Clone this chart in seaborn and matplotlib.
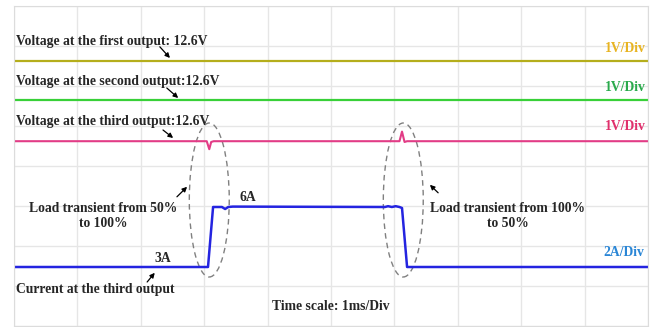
import matplotlib
matplotlib.use("Agg")
import matplotlib.pyplot as plt
from matplotlib.patches import Ellipse
import seaborn as sns

# time axis in ms (1 ms/div), vertical position in scope divisions
t_yellow = [0.0, 10.0]
v_yellow = [6.62, 6.62]

t_green = [0.0, 10.0]
v_green = [5.65, 5.65]

t_pink = [0.0, 3.04, 3.08, 3.11, 3.15, 6.08, 6.12, 6.16, 6.2, 10.0]
v_pink = [4.62, 4.62, 4.42, 4.60, 4.62, 4.62, 4.86, 4.60, 4.62, 4.62]

# current at the third output, amps (2 A/div)
t_current = [0.0, 3.06, 3.14, 3.28, 3.33, 3.38, 3.45, 5.85, 5.9, 5.96, 6.02, 6.08, 6.12, 6.2, 10.0]
i_current = [3.0, 3.0, 6.0, 6.0, 5.9, 6.0, 6.02, 6.0, 6.04, 6.0, 6.04, 6.0, 5.95, 3.0, 3.0]
I_OFFSET = 1.475  # division where 3A sits
A_PER_DIV = 2.0

SERIF = "Liberation Serif"
FS = 9.8

sns.set_style("white")
fig = plt.figure(figsize=(6.53, 3.27), dpi=100)
ax = fig.add_axes([14 / 653, 1 / 327, 634 / 653, 320 / 327])

sns.lineplot(x=t_yellow, y=v_yellow, ax=ax, color="#b5ae1c", lw=1.6, estimator=None)
sns.lineplot(x=t_green, y=v_green, ax=ax, color="#38d038", lw=1.6, estimator=None)
sns.lineplot(x=t_pink, y=v_pink, ax=ax, color="#e23c86", lw=1.5, estimator=None)
cur_div = [I_OFFSET + (i - 3.0) / A_PER_DIV for i in i_current]
sns.lineplot(x=t_current, y=cur_div, ax=ax, color="#2424e0", lw=1.8, estimator=None)

ax.set_xlim(0, 10)
ax.set_ylim(0, 8)
ax.set_xticks(range(11))
ax.set_yticks(range(9))
ax.tick_params(length=0, labelbottom=False, labelleft=False)
ax.grid(True, color="#e6e6e6", lw=1)
for s in ax.spines.values():
    s.set_color("#dcdcdc")

for cx in (3.08, 6.14):
    ax.add_patch(Ellipse((cx, 3.15), 0.63, 3.85, fill=False, ec="#808080",
                         ls=(0, (4, 3)), lw=1))

txt = dict(family=SERIF, weight="bold", fontsize=FS, va="center")
ax.text(0.03, 7.12, "Voltage at the first output: 12.6V", ha="left", **txt)
ax.text(0.03, 6.10, "Voltage at the second output:12.6V", ha="left", **txt)
ax.text(0.03, 5.12, "Voltage at the third output:12.6V", ha="left", **txt)
ax.text(9.97, 6.95, "1V/Div", ha="right", color="#e8b422", **txt)
ax.text(9.97, 5.97, "1V/Div", ha="right", color="#2aaa4c", **txt)
ax.text(9.97, 5.00, "1V/Div", ha="right", color="#e0306c", **txt)
ax.text(9.94, 1.85, "2A/Div", ha="right", color="#2a86d6", **txt)
ax.text(1.40, 2.76, "Load transient from 50%\nto 100%", ha="center",
        multialignment="center", linespacing=1.2, **txt)
ax.text(7.79, 2.75, "Load transient from 100%\nto 50%", ha="center",
        multialignment="center", linespacing=1.2, **txt)
ax.text(3.69, 3.22, "6A", ha="center", **txt)
ax.text(2.35, 1.70, "3A", ha="center", **txt)
ax.text(0.03, 0.90, "Current at the third output", ha="left", **txt)
ax.text(5.0, 0.475, "Time scale: 1ms/Div", ha="center", **txt)

arrows = [((2.30, 6.98), (2.46, 6.70)),
          ((2.41, 5.95), (2.59, 5.70)),
          ((2.35, 4.90), (2.51, 4.70)),
          ((2.57, 3.23), (2.73, 3.48)),
          ((2.10, 1.10), (2.22, 1.33)),
          ((6.69, 3.33), (6.56, 3.53))]
for start, end in arrows:
    ax.annotate("", xy=end, xytext=start,
                arrowprops=dict(arrowstyle="-|>", color="black", lw=0.9,
                                mutation_scale=7, shrinkA=0, shrinkB=0))

fig.savefig("out.png", dpi=100, facecolor="white")
